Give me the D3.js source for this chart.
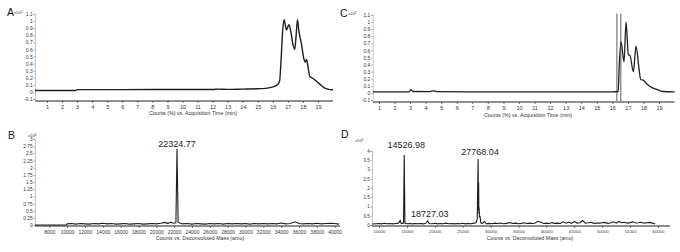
<!DOCTYPE html>
<html><head><meta charset="utf-8">
<script src="https://cdn.jsdelivr.net/npm/d3@7"></script>
<style>
html,body{margin:0;padding:0;background:#fff;}
svg{display:block;font-family:"Liberation Sans",Arial,sans-serif;}
</style></head>
<body><svg id="c" width="680" height="252"></svg>
<script>
// ---------- DATA ----------
const panelLetters = ["A", "B", "C", "D"];
const multipliers = ["2", "6", "2", "5"];   // x10^n
const timeTicks = [1,2,3,4,5,6,7,8,9,10,11,12,13,14,15,16,17,18,19];
const chromYTicks = [-0.1,0,0.1,0.2,0.3,0.4,0.5,0.6,0.7,0.8,0.9,1,1.1];
const massTicksB = [8000,10000,12000,14000,16000,18000,20000,22000,24000,26000,28000,30000,32000,34000,36000,38000,40000];
const massTicksD = [10000,15000,20000,25000,30000,35000,40000,45000,50000,55000,60000];
const yTicksB = [0,0.25,0.5,0.75,1,1.25,1.5,1.75,2,2.25,2.5,2.75,3];
const yTicksD = [0,0.5,1,1.5,2,2.5,3,3.5,4];
const titleTime = "Counts (%) vs. Acquisition Time (min)";
const titleMass = "Counts vs. Deconvoluted Mass (amu)";

// chromatogram A: [time (min), counts x10^2]
const chromA = [[0.2,0.02],[2.9,0.02],[3.0,0.033],[6,0.033],[10,0.034],[12,0.034],[12.4,0.04],[13,0.036],[14,0.04],[14.5,0.042],[15,0.045],[15.5,0.05],[15.8,0.06],[16.0,0.07],[16.3,0.1],[16.45,0.15],[16.55,0.45],[16.65,0.85],[16.75,1.02],[16.91,0.875],[17.07,0.95],[17.2,0.85],[17.35,0.66],[17.46,0.6],[17.55,0.8],[17.64,1.02],[17.72,0.88],[17.9,0.68],[18.06,0.47],[18.15,0.42],[18.24,0.46],[18.32,0.38],[18.46,0.22],[18.68,0.19],[18.9,0.15],[19.12,0.11],[19.4,0.06],[19.65,0.04],[20,0.03]];
// chromatogram C
const chromC = [[0.6,0.015],[2.95,0.015],[3.05,0.045],[3.2,0.02],[4.3,0.018],[4.5,0.03],[4.7,0.018],[10,0.015],[16.0,0.015],[16.38,0.02],[16.43,0.32],[16.56,0.72],[16.75,0.44],[16.88,1.0],[17.03,0.54],[17.13,0.53],[17.35,0.3],[17.52,0.66],[17.71,0.35],[17.82,0.19],[17.99,0.18],[18.2,0.13],[18.42,0.09],[18.85,0.05],[19.26,0.02],[20,0.015]];
const markerTimesC = [16.29, 16.54];

// deconvoluted spectrum B: [mass (amu), counts x10^6]
const specB = [[6400,0],[9950,0],[10000,0.04],[10500,0.05],[11000,0.03],[11500,0.05],[12000,0.04],[12500,0.03],[13000,0.05],[13500,0.04],[14000,0.06],[14500,0.04],[15000,0.05],[15500,0.03],[16000,0.04],[16500,0.05],[17000,0.03],[17500,0.04],[18000,0.05],[18500,0.03],[19000,0.04],[19500,0.05],[20000,0.04],[20500,0.06],[21000,0.09],[21300,0.05],[21600,0.1],[21900,0.06],[22200,0.08],[22324.77,2.65],[22450,0.1],[22700,0.06],[23000,0.04],[23500,0.05],[24000,0.03],[24500,0.05],[25000,0.04],[25500,0.03],[26000,0.05],[26500,0.04],[27000,0.05],[27500,0.03],[28000,0.05],[28500,0.04],[29000,0.05],[29500,0.04],[30000,0.05],[30500,0.03],[31000,0.05],[31500,0.04],[32000,0.05],[32500,0.04],[33000,0.05],[33500,0.04],[34000,0.07],[34500,0.04],[35000,0.05],[35600,0.11],[36000,0.05],[36500,0.04],[37000,0.05],[37500,0.04],[38000,0.06],[38500,0.04],[39000,0.05],[39500,0.06],[40000,0.05],[40500,0.03]];
const peaksB = [{mass:22324.77, value:2.65, label:"22324.77"}];

// deconvoluted spectrum D: [mass (amu), counts x10^5]
const specD = [[8800,0.05],[9500,0.07],[10000,0.08],[10500,0.06],[11000,0.09],[11500,0.07],[12000,0.08],[12500,0.06],[13000,0.08],[13500,0.1],[13800,0.24],[14000,0.08],[14400,0.1],[14526.98,3.78],[14650,0.1],[15000,0.07],[15500,0.08],[16000,0.06],[16500,0.08],[17000,0.07],[17500,0.08],[18000,0.06],[18400,0.1],[18727.03,0.22],[19000,0.08],[19500,0.07],[20000,0.09],[20500,0.06],[21000,0.08],[21500,0.07],[22000,0.1],[22500,0.07],[23000,0.08],[23500,0.06],[24000,0.08],[24500,0.07],[25000,0.09],[25500,0.06],[26000,0.08],[26500,0.07],[27000,0.1],[27400,0.12],[27600,0.3],[27768.04,3.57],[27820,0.8],[27860,2.3],[27900,0.6],[27950,0.95],[28000,0.4],[28100,0.5],[28250,0.12],[28500,0.08],[28900,0.2],[29200,0.07],[29700,0.09],[30200,0.07],[30800,0.1],[31300,0.08],[31800,0.11],[32300,0.07],[32800,0.09],[33500,0.13],[34000,0.08],[34500,0.1],[35000,0.07],[35500,0.09],[36000,0.12],[36500,0.08],[37000,0.1],[37500,0.08],[38000,0.11],[38500,0.2],[39000,0.15],[39500,0.08],[40000,0.1],[40500,0.08],[41000,0.13],[41500,0.09],[42000,0.1],[42500,0.08],[43000,0.17],[43500,0.1],[44000,0.15],[44500,0.09],[45000,0.19],[45500,0.1],[46000,0.12],[46500,0.24],[47000,0.1],[47500,0.12],[48000,0.15],[48500,0.09],[49000,0.11],[49500,0.1],[50000,0.12],[50500,0.14],[51000,0.09],[51500,0.11],[52000,0.17],[52500,0.1],[53000,0.19],[53500,0.12],[54000,0.15],[54500,0.1],[55000,0.13],[55500,0.17],[56000,0.11],[56500,0.12],[57000,0.15],[57500,0.1],[58000,0.12],[58500,0.14],[59000,0.1],[59500,0.05]];
const peaksD = [{mass:14526.98, value:3.78, label:"14526.98", dy:-7},{mass:18727.03, value:0.22, label:"18727.03", dy:-4},{mass:27768.04, value:3.57, label:"27768.04", dy:-4}];

// ---------- DRAW ----------
const svg = d3.select("#c");
const ink = "#1e1e1e", txt = "#333";

function panel(o){
  const g = svg.append("g");
  const x = d3.scaleLinear().domain(o.xDom).range(o.xRange);
  const y = d3.scaleLinear().domain(o.yDom).range(o.yRange);
  const ya = g.append("g").attr("transform",`translate(${o.xRange[0]},0)`)
    .call(d3.axisLeft(y).tickValues(o.yTicks).tickSize(1.5).tickPadding(0.8).tickFormat(d=>String(d)));
  ya.select(".domain").attr("stroke","#888").attr("stroke-width",0.5);
  ya.selectAll(".tick line").attr("stroke","#555").attr("stroke-width",0.5);
  ya.selectAll("text").attr("font-size",o.yFont).attr("fill",txt).attr("font-family","Liberation Sans, Arial, sans-serif");
  const xa = g.append("g").attr("transform",`translate(0,${o.axisY})`)
    .call(d3.axisBottom(x).tickValues(o.xTicks).tickSize(2).tickPadding(2).tickFormat(d=>String(d)));
  xa.select(".domain").attr("stroke",ink).attr("stroke-width",1).attr("d",`M${o.xRange[0]},0H${o.xRange[1]}`);
  xa.selectAll(".tick line").attr("stroke",ink).attr("stroke-width",0.6);
  xa.selectAll("text").attr("font-size",o.xFont).attr("fill",txt).attr("font-family","Liberation Sans, Arial, sans-serif");
  g.append("text").attr("x",o.titleX).attr("y",o.titleY).attr("text-anchor","middle")
    .attr("font-size",o.titleFont).attr("fill",txt).text(o.title);
  g.append("text").attr("x",o.letterX).attr("y",o.letterY).attr("font-size",10.5).attr("fill","#111").text(o.letter);
  const m = g.append("text").attr("x",o.multX).attr("y",o.multY).attr("font-size",4.2).attr("fill",txt);
  m.append("tspan").text("x10");
  m.append("tspan").attr("dy",-1.5).attr("font-size",3.2).text(o.mult);
  return {g,x,y};
}

// A
const pA = panel({xDom:[0.2,20], xRange:[35,333], yDom:[-0.1,1.1], yRange:[99,14], axisY:101,
  yTicks:chromYTicks, xTicks:timeTicks, yFont:5, xFont:5.5, title:titleTime, titleX:193, titleY:115, titleFont:5.3,
  letter:panelLetters[0], letterX:7, letterY:16, mult:multipliers[0], multX:14, multY:14});
pA.g.append("path").datum(chromA).attr("fill","none").attr("stroke",ink).attr("stroke-width",1.4)
  .attr("stroke-linejoin","round").attr("d",d3.line().curve(d3.curveMonotoneX).x(d=>pA.x(d[0])).y(d=>pA.y(d[1])));

// C
const pC = panel({xDom:[0.6,20], xRange:[372.7,674.6], yDom:[-0.1,1.1], yRange:[100,15], axisY:102,
  yTicks:chromYTicks, xTicks:timeTicks, yFont:5, xFont:5.5, title:titleTime, titleX:528, titleY:117, titleFont:5.3,
  letter:panelLetters[2], letterX:340, letterY:17, mult:multipliers[2], multX:348, multY:15});
pC.g.selectAll(".mk").data(markerTimesC).join("line").attr("class","mk")
  .attr("x1",d=>pC.x(d)).attr("x2",d=>pC.x(d)).attr("y1",pC.y(1.12)).attr("y2",102)
  .attr("stroke","#8a8a8a").attr("stroke-width",1.4);
pC.g.append("path").datum(chromC).attr("fill","none").attr("stroke",ink).attr("stroke-width",1.3)
  .attr("stroke-linejoin","round").attr("d",d3.line().curve(d3.curveMonotoneX).x(d=>pC.x(d[0])).y(d=>pC.y(d[1])));

// B
const pB = panel({xDom:[6400,40600], xRange:[35,340], yDom:[0,3], yRange:[225,139], axisY:226,
  yTicks:yTicksB, xTicks:massTicksB, yFont:4.8, xFont:5, title:titleMass, titleX:200, titleY:240, titleFont:5.3,
  letter:panelLetters[1], letterX:8, letterY:139, mult:multipliers[1], multX:28, multY:137});
pB.g.append("path").datum(specB).attr("fill","none").attr("stroke",ink).attr("stroke-width",1.1)
  .attr("d",d3.line().x(d=>pB.x(d[0])).y(d=>pB.y(d[1])));
pB.g.selectAll(".pl").data(peaksB).join("text").attr("class","pl")
  .attr("x",d=>pB.x(d.mass)).attr("y",d=>pB.y(d.value)-2).attr("text-anchor","middle")
  .attr("font-size",9).attr("fill","#222").text(d=>d.label);

// D
const pD = panel({xDom:[8750,62150], xRange:[372,670], yDom:[0,4], yRange:[225,151], axisY:226,
  yTicks:yTicksD, xTicks:massTicksD, yFont:4.5, xFont:4.3, title:titleMass, titleX:530, titleY:240, titleFont:5.2,
  letter:panelLetters[3], letterX:341, letterY:138, mult:multipliers[3], multX:355, multY:142});
pD.g.append("path").datum(specD).attr("fill","none").attr("stroke",ink).attr("stroke-width",1.1)
  .attr("d",d3.line().x(d=>pD.x(d[0])).y(d=>pD.y(d[1])));
pD.g.selectAll(".pl").data(peaksD).join("text").attr("class","pl")
  .attr("x",d=>pD.x(d.mass)+2).attr("y",d=>pD.y(d.value)+d.dy).attr("text-anchor","middle")
  .attr("font-size",9).attr("fill","#222").text(d=>d.label);
</script></body></html>
